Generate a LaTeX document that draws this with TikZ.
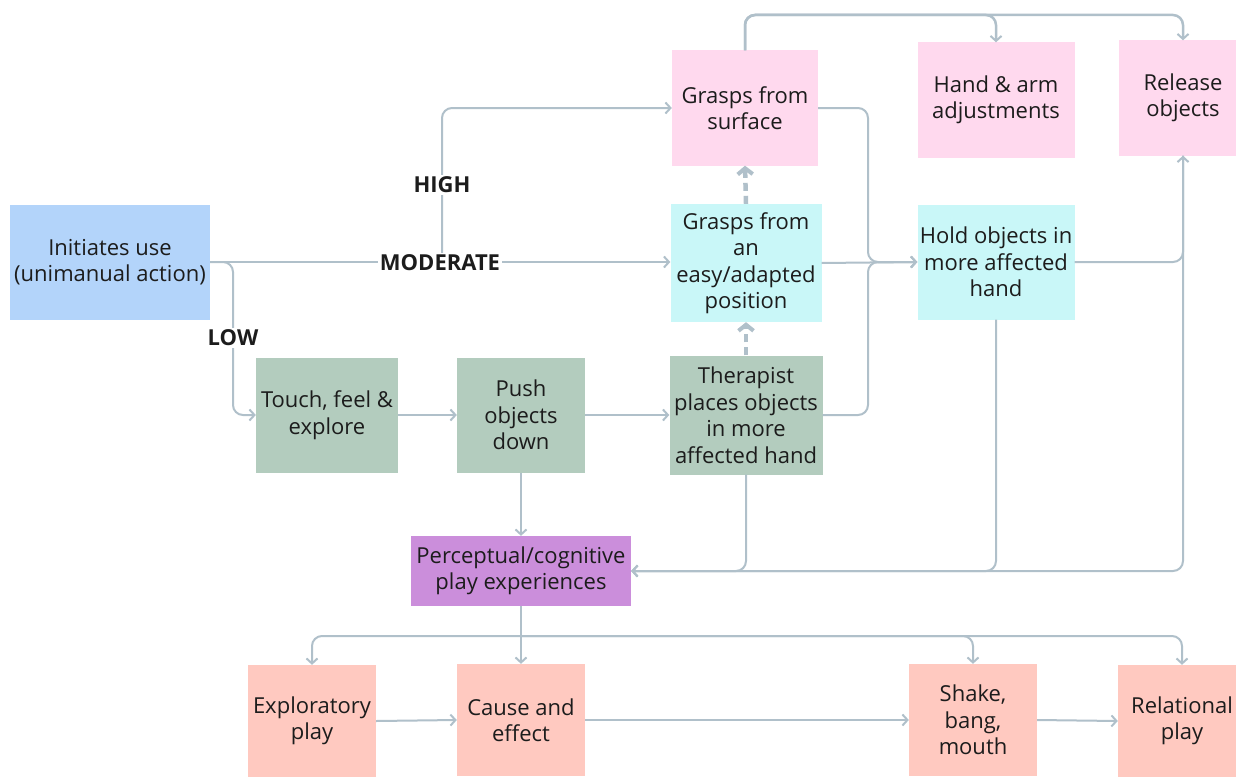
\documentclass[tikz,border=0pt]{standalone}
\usepackage{fontspec}
\setmainfont{Open Sans}
\usetikzlibrary{arrows.meta}
\definecolor{lc}{HTML}{B0C0CA}
\definecolor{cblue}{HTML}{B3D4FA}
\definecolor{cpink}{HTML}{FFD9EE}
\definecolor{ccyan}{HTML}{C9F7F8}
\definecolor{csage}{HTML}{B3CCBE}
\definecolor{cpurp}{HTML}{CB8EDB}
\definecolor{csalm}{HTML}{FFC9C0}
\definecolor{tc}{HTML}{1C1C1C}
\begin{document}
\begin{tikzpicture}[x=1pt,y=-1pt,
 box/.style={inner sep=0pt, align=center, text=tc, font=\fontsize{22}{26.5}\selectfont},
 conn/.style={draw=lc, line width=2pt, rounded corners=10pt, -{Straight Barb[length=5pt,width=11pt,line width=2pt]}},
 plain/.style={draw=lc, line width=2pt, rounded corners=10pt},
 dasharrow/.style={draw=lc, line width=4.5pt, dash pattern=on 8pt off 5pt, -{Straight Barb[length=6pt,width=15pt,line width=4pt]}},
 lab/.style={fill=white, inner sep=2pt, text=tc, font=\fontsize{22}{26}\selectfont\bfseries}]
\useasboundingbox (0,0) rectangle (1236,776);
\fill[white] (0,0) rectangle (1236,776);
% nodes
\node[box, fill=cblue, minimum width=200pt, minimum height=115pt] (init) at (110,262) {Initiates use\\(unimanual action)};
\node[box, fill=cpink, minimum width=146pt, minimum height=115pt] (gs) at (745,108) {Grasps from\\surface};
\node[box, fill=cpink, minimum width=157pt, minimum height=115pt] (ha) at (996,100) {Hand \& arm\\adjustments};
\node[box, fill=cpink, minimum width=128pt, minimum height=115pt] (rel) at (1183,98) {Release\\objects};
\node[box, fill=ccyan, minimum width=151pt, minimum height=118pt] (ge) at (746,263) {Grasps from\\an\\easy/adapted\\position};
\node[box, fill=ccyan, minimum width=157pt, minimum height=115pt] (hold) at (996,262) {Hold objects in\\more affected\\hand};
\node[box, fill=csage, minimum width=142pt, minimum height=115pt] (tfe) at (327,415) {Touch, feel \&\\explore};
\node[box, fill=csage, minimum width=128pt, minimum height=115pt] (push) at (521,415) {Push\\objects\\down};
\node[box, fill=csage, minimum width=153pt, minimum height=119pt] (th) at (746,415) {Therapist\\places objects\\in more\\affected hand};
\node[box, fill=cpurp, minimum width=220pt, minimum height=70pt] (pc) at (521,571) {Perceptual/cognitive\\play experiences};
\node[box, fill=csalm, minimum width=128pt, minimum height=112pt] (ep) at (312,721) {Exploratory\\play};
\node[box, fill=csalm, minimum width=128pt, minimum height=112pt] (ce) at (521,720) {Cause and\\effect};
\node[box, fill=csalm, minimum width=128pt, minimum height=112pt] (sb) at (973,720) {Shake,\\bang,\\mouth};
\node[box, fill=csalm, minimum width=128pt, minimum height=112pt] (rp) at (1182,721) {Relational\\play};
% coordinates
\coordinate (hb) at (442,262);
\coordinate (lowx) at (233,262);
\coordinate (jn) at (868,262);
\coordinate (tl) at (996,15);
\coordinate (tr) at (1183,15);
\coordinate (br) at (521,636);
% connectors
\draw[conn] (init.east) -- (init.east -| ge.west);
\draw[conn] (hb) |- (gs.west);
\draw[conn] (init.east) -- (lowx) |- (tfe.west);
\draw[conn] (tfe.east) -- (tfe.east -| push.west);
\draw[conn] (push.east) -- (push.east -| th.west);
\draw[dasharrow] (th.north) -- (ge.south);
\draw[dasharrow] (ge.north) -- (gs.south);
\draw[conn] (gs.east) -| (jn) -- (hold.west);
\draw[conn] (th.east) -| (jn) -- (hold.west);
\draw[conn] (ge.east) -- (hold.west);
\draw[conn] (hold.east) -| (rel.south);
\draw[conn, line width=2.5pt] (gs.north) |- (tl) -- (ha.north);
\draw[conn, line width=2.5pt] (gs.north) |- (tr) -- (rel.north);
\draw[conn] (push.south) -- (pc.north);
\draw[conn] (th.south) |- (pc.east);
\draw[conn] (hold.south) |- (pc.east);
\draw[conn] (rel.south) |- (pc.east);
\draw[plain] (pc.south) -- (br);
\draw[conn] (br) -| (ep.north);
\draw[conn] (pc.south) -- (ce.north);
\draw[conn] (br) -| (sb.north);
\draw[conn] (br) -| (rp.north);
\draw[conn] (ep.east) -- (ce.west);
\draw[conn] (ce.east) -- (sb.west);
\draw[conn] (sb.east) -- (rp.west);
% labels
\node[lab] (lhigh) at (442,185) {HIGH};
\node[lab] (lmod) at (440,263) {MODERATE};
\node[lab] (llow) at (233,338) {LOW};
\end{tikzpicture}
\end{document}
